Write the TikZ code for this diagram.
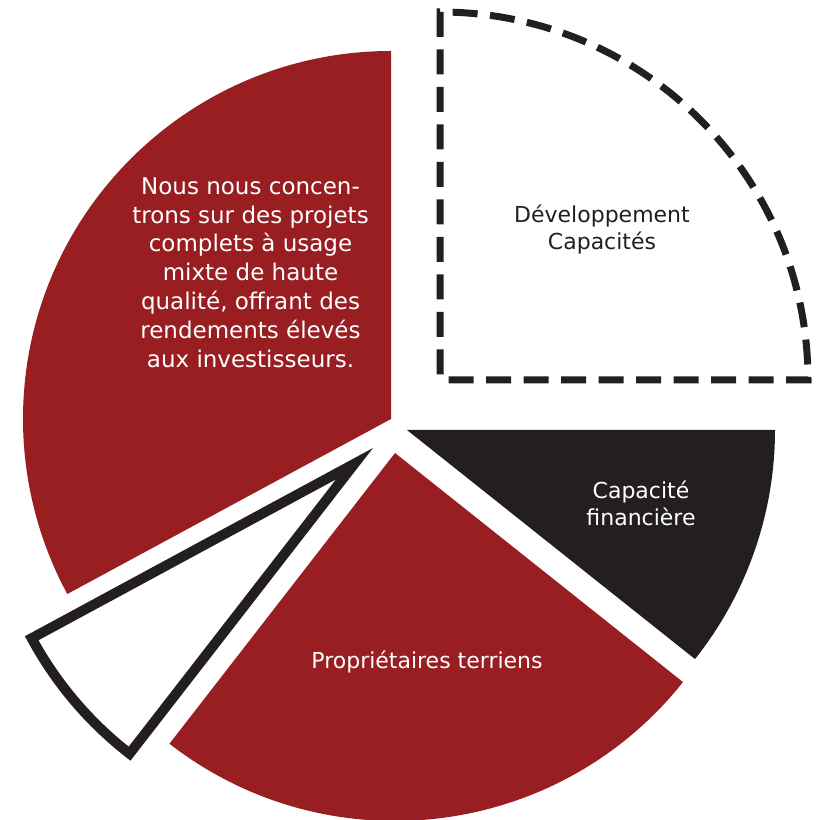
\documentclass[tikz,border=0pt]{standalone}
\usepackage{fontspec}
\setmainfont{DejaVu Sans}
\definecolor{brandred}{RGB}{152,30,34}
\definecolor{ink}{RGB}{35,31,32}
\begin{document}
\begin{tikzpicture}[x=1pt,y=1pt,
  redwedge/.style={fill=brandred},
  inkwedge/.style={fill=ink},
  openwedge/.style={draw=ink, fill=white, line width=10, line join=miter, miter limit=10},
  plannedwedge/.style={draw=ink, line width=7, dash pattern=on 25 off 12.5, dash phase=29},
  slicetext/.style={inner sep=0pt, align=center, font=\fontsize{22}{27}\selectfont}]
\useasboundingbox (0,0) rectangle (817,820);

% exploded pie, every wedge has its own apex
\path[redwedge] (391,401) -- ++(90:368) arc[start angle=90, end angle=208.4, radius=368] -- cycle;
\path[plannedwedge] (440,440) -- ++(0:368) arc[start angle=0, end angle=90, radius=368] -- cycle;
\path[inkwedge] (407,390) -- ++(-38.5:368) arc[start angle=-38.5, end angle=0, radius=368] -- cycle;
\path[redwedge] (395,367) -- ++(-127.8:368) arc[start angle=-127.8, end angle=-38.5, radius=368] -- cycle;
\path[openwedge] (354.5,356.3) -- ++(208.4:367) arc[start angle=208.4, end angle=232.2, radius=367] -- cycle;

% wedge captions
\node[slicetext, text=white, font=\fontsize{23}{28.8}\selectfont] (focus) at (250.5,547.5)
  {Nous nous concen-\\trons sur des projets\\complets à usage\\mixte de haute\\qualité, offrant des\\rendements élevés\\aux investisseurs.};
\node[slicetext, text=ink] (dev) at (602,590.5) {Développement\\Capacités};
\node[slicetext, text=white] (fin) at (641,316.8) {Capacité\\financière};
\node[slicetext, text=white, anchor=base] (land) at (427,151.5) {Propriétaires terriens};
\end{tikzpicture}
\end{document}
